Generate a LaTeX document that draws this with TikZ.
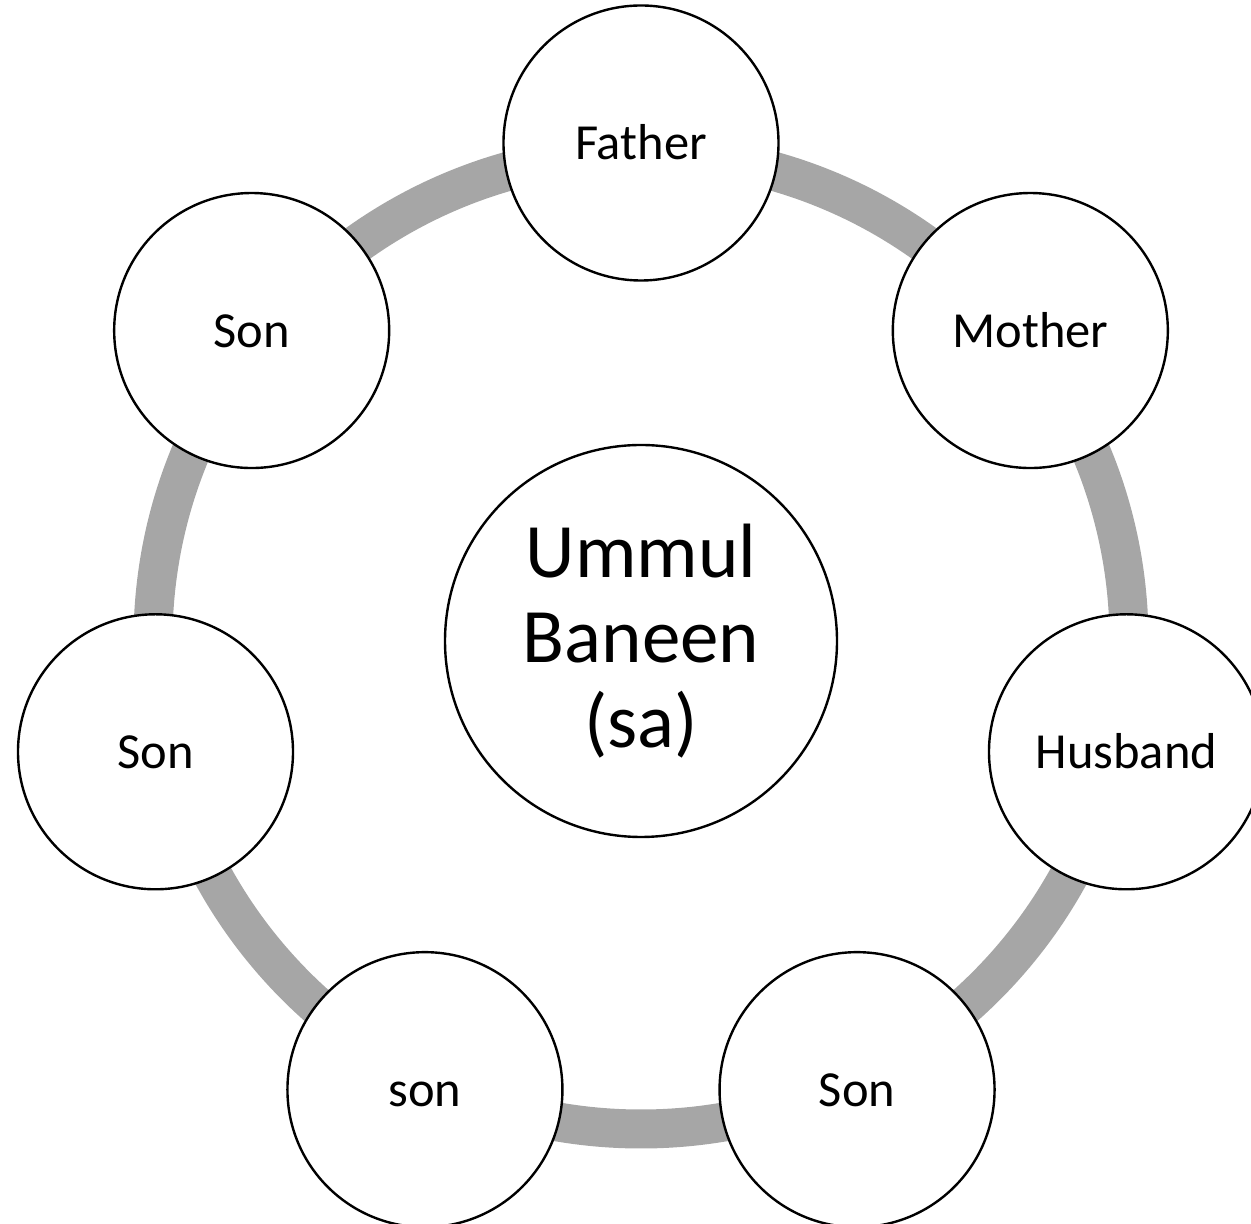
\documentclass[tikz,border=0pt]{standalone}
\usepackage{fontspec}
\setmainfont{Carlito}
\usetikzlibrary{calc}
\definecolor{ringgray}{RGB}{166,166,166}
\begin{document}
\begin{tikzpicture}[
  member/.style={circle, draw=black, line width=2.4pt, fill=white, minimum size=275pt, inner sep=0pt, text height=33pt, text depth=0pt, font=\fontsize{50.5}{60}\selectfont},
  hub/.style={circle, draw=black, line width=2.4pt, fill=white, minimum size=392pt, inner sep=0pt, align=center, font=\fontsize{77}{85}\selectfont},
  ring/.style={draw=ringgray, line width=39pt}
]
\useasboundingbox (0,0) rectangle (1251pt,1224pt);
\clip (0,0) rectangle (1251pt,1224pt);
\coordinate (c) at (641pt,583pt);
\draw[ring] (c) circle[radius=488pt];
\node[hub] (hub) at (c) {Ummul\\Baneen\\(sa)};
\node[member] (father)  at ($(c)+(90:498pt)$) {Father};
\node[member] (mother)  at ($(c)+(38.571:498pt)$) {Mother};
\node[member] (husband) at ($(c)+(-12.857:498pt)$) {Husband};
\node[member] (sonbr)   at ($(c)+(-64.286:498pt)$) {Son};
\node[member] (sonbl)   at ($(c)+(-115.714:498pt)$) {son};
\node[member] (sonl)    at ($(c)+(-167.143:498pt)$) {Son};
\node[member] (sontl)   at ($(c)+(141.429:498pt)$) {Son};
\end{tikzpicture}
\end{document}
